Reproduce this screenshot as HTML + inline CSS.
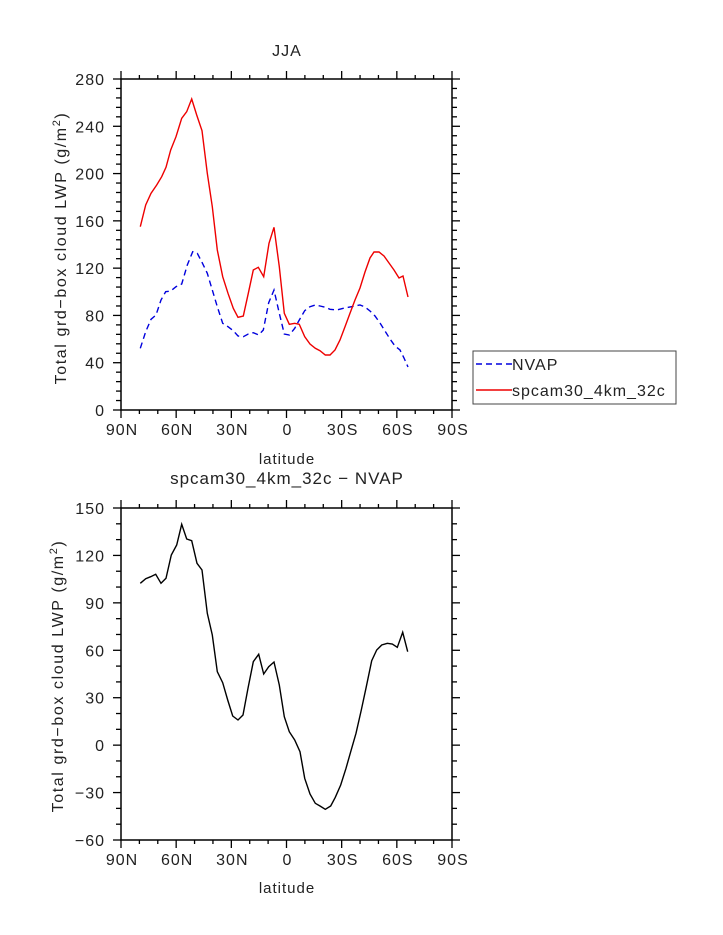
<!DOCTYPE html>
<html><head><meta charset="utf-8"><style>body{margin:0;background:#fff}svg{display:block}text{font-family:"Liberation Sans","DejaVu Sans",sans-serif;fill:#222;letter-spacing:1px}</style></head>
<body>
<svg width="723" height="935" viewBox="0 0 723 935">
<g id="ticks" stroke="#000" stroke-width="1.3" fill="none"></g>
<text x="287" y="56" font-size="16" text-anchor="middle">JJA</text>
<text x="287" y="484" font-size="17" text-anchor="middle">spcam30_4km_32c − NVAP</text>
<text transform="translate(66,248) rotate(-90)" font-size="16" text-anchor="middle" style="letter-spacing:1.6px">Total grd−box cloud LWP (g/m<tspan font-size="11" dy="-6">2</tspan><tspan dy="6">)</tspan></text>
<text transform="translate(63,676) rotate(-90)" font-size="16" text-anchor="middle" style="letter-spacing:1.6px">Total grd−box cloud LWP (g/m<tspan font-size="11" dy="-6">2</tspan><tspan dy="6">)</tspan></text>
<text x="287" y="464" font-size="15" text-anchor="middle">latitude</text>
<text x="287" y="893" font-size="15" text-anchor="middle">latitude</text>
<g id="labels" font-size="16"></g>
<rect x="121" y="79" width="331" height="331" fill="none" stroke="#000" stroke-width="1.5"/>
<rect x="121" y="508" width="331" height="332" fill="none" stroke="#000" stroke-width="1.5"/>
<polyline fill="none" stroke="#0000dd" stroke-width="1.4" stroke-dasharray="6,4" points="140.3,348.3 145.7,331.7 151,319.3 156,315 161,300 165.7,291.7 170.7,291 176,286.7 181.7,284 187.3,265 192.7,251.7 197.3,253.3 201.7,261.7 207.3,273.3 212.3,290 217.3,306.7 222.7,323.3 228,326.7 233.3,330.7 238,336 243.3,336.7 248.3,334 253.3,332.7 258.7,335 263.3,330 268.7,302.7 274,290 279.3,313.3 284.3,334 289.3,335 294.7,328.3 299.3,320 304.7,310.7 310,306.7 315.3,305 320,306 325.3,307.3 330,309.3 336.7,310 343.3,308.3 348.3,307.3 355,306 360,305 365,307 370,311 375,316 380,323 385,331 390,339 395,346 400,350 404,358 408,367"/>
<polyline fill="none" stroke="#ee0000" stroke-width="1.4" points="140.3,226.7 145.7,205 151,193.3 156.7,185 161.7,176.7 166,167.3 170.7,150 176,136.7 181.7,118.3 186.7,111.7 191.7,99 196.7,115 202,130.7 207.3,173.3 212.3,206.7 217.3,250 222.7,276.7 228,293.3 233.3,308.3 238,317.3 243.3,316 248.3,293.3 253.3,270 258.3,267.3 263.7,276.7 269,243.3 274,227.3 279.3,266.7 284.3,313.3 289.3,324.3 294.7,323.3 299.3,324.3 304.7,336.7 310,344 315.3,348.3 320,350.7 325.3,355 330,355 335,350 340,340 345,326.7 350,313.3 355,300 360,288 365,272 370,258 374,252 379,252 384,256 389,263 394,270 399,278 403,276 408,297"/>
<polyline fill="none" stroke="#000" stroke-width="1.4" points="140.3,583.3 145.7,578.7 150.7,576.7 155.7,574.3 161,583.3 166,578.3 171.3,555 176.7,545 181.7,524.3 186.7,539 191.7,540.7 197,563.3 202,570 207.3,613.3 212.3,635 217.3,671.7 222.7,682.7 227.7,700 232.7,716 238,720 243,715 248,688.3 253.3,661.7 258.7,654.3 263.7,674 268.7,666.7 274,662 279.3,685 284.3,716.7 289.3,731.7 294.7,740 300,751.7 304.7,778.3 310,794 315.3,803.3 320,806 325.3,809.3 330.7,806 335.3,797.3 340.7,785 346,768.3 351,750.7 356,733.3 361.3,710 366.3,686.7 371.7,660.7 376.7,650 381.7,645 387.3,643.3 392.3,644 397.3,647.3 402.7,632.3 407.7,651.7"/>
<rect x="473" y="351" width="203" height="53" fill="#fff" stroke="#444" stroke-width="1"/>
<line x1="476" y1="364" x2="512" y2="364" stroke="#0000dd" stroke-width="1.4" stroke-dasharray="6,4"/>
<line x1="476" y1="390" x2="512" y2="390" stroke="#ee0000" stroke-width="1.4"/>
<text x="512" y="370" font-size="16">NVAP</text>
<text x="512" y="396" font-size="16">spcam30_4km_32c</text>
</svg>
<script>
var T=document.getElementById('ticks'),L=document.getElementById('labels'),ns='http://www.w3.org/2000/svg';
function ln(a,b,c,d){var e=document.createElementNS(ns,'line');e.setAttribute('x1',a);e.setAttribute('y1',b);e.setAttribute('x2',c);e.setAttribute('y2',d);T.appendChild(e);}
function tx(x,y,s,anc){var e=document.createElementNS(ns,'text');e.setAttribute('x',x);e.setAttribute('y',y);e.setAttribute('text-anchor',anc);e.textContent=s;L.appendChild(e);}
function plot(top,bot,ymin,ymax,ystep,ysub){
 var xl=121,xr=452;var xs=['90N','60N','30N','0','30S','60S','90S'];
 for(var i=0;i<=18;i++){var x=xl+i*(xr-xl)/18;var m=i%3==0;var l=m?8:4;ln(x,bot,x,bot+l);ln(x,top,x,top-l);if(m)tx(x+1,bot+25,xs[i/3],'middle');}
 var n=Math.round((ymax-ymin)/ysub);
 for(var j=0;j<=n;j++){var v=ymin+j*ysub;var y=bot-(v-ymin)*(bot-top)/(ymax-ymin);var m=Math.abs(v/ystep-Math.round(v/ystep))<1e-6;var l=m?8:5;ln(xl,y,xl-l,y);ln(xr,y,xr+l,y);if(m)tx(xl-16,y+6,(v<0?'−'+(-v):''+v),'end');}
}
plot(79,410,0,280,40,8);
plot(508,840,-60,150,30,10);
</script>
</body></html>
